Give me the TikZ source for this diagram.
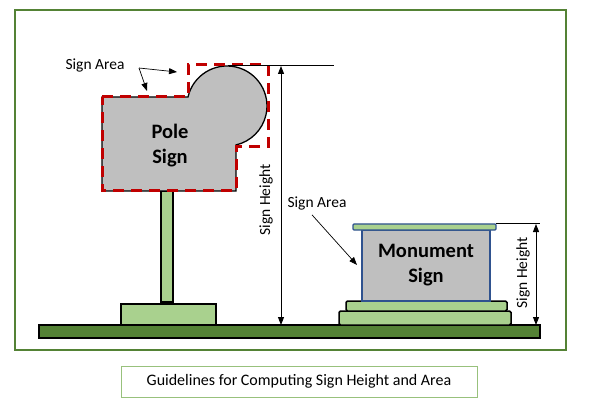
\documentclass[tikz,border=0pt]{standalone}
\usepackage{fontspec}
\setmainfont{Carlito}
\usetikzlibrary{arrows.meta}
\definecolor{framegreen}{HTML}{548235}
\definecolor{lightgreen}{HTML}{A9D18E}
\definecolor{signgray}{HTML}{BFBFBF}
\definecolor{signblue}{HTML}{2F528F}
\definecolor{areared}{HTML}{C00000}
\begin{document}
\begin{tikzpicture}[x=1pt,y=1pt]
		\tikzset{label/.style = {font=\fontsize{15.5}{18}\selectfont, inner sep = 1pt},
			signtext/.style = {font=\fontsize{20.5}{25}\selectfont\bfseries, align=center},
			block/.style = {draw, line width=1.5pt, fill=lightgreen},
			pointer/.style = {-{Triangle[length=8pt,width=6pt]}, line width=0.7pt},
			measure/.style = {{Triangle[length=8pt,width=6pt]}-{Triangle[length=8pt,width=6pt]}, line width=1pt}}
		\useasboundingbox (0,0) rectangle (600,413);

		% frame and ground
		\draw[framegreen, line width=2.6pt] (15,63) rectangle (566,403);
		\draw[line width=1.6pt, fill=framegreen] (39,75) rectangle (540,88);

		% pole sign
		\draw[block] (121,88) rectangle (216,109);
		\draw[block] (161,111) rectangle (173,222);
		\draw[line width=1.3pt, fill=signgray] (102,316) -- (188,316) arc[start angle=167, end angle=-77, radius=40] -- (236,222) -- (102,222) -- cycle;
		\draw[areared, line width=3pt, dash pattern=on 11pt off 7pt] (102,316) -- (188,316) -- (188,348) -- (268,348) -- (268,266) -- (236,266) -- (236,222) -- (102,222) -- cycle;
		\node[signtext] (P_1) at (170,267) {Pole\\Sign};

		% monument sign
		\draw[block, rounded corners=1.5pt] (339,88) rectangle (511,102);
		\draw[block, rounded corners=1.5pt] (346,102) rectangle (507,112);
		\draw[signblue, line width=1.3pt, fill=signgray] (362,112) rectangle (490,183);
		\draw[signblue, line width=1.3pt, fill=lightgreen, rounded corners=1pt] (353,183) rectangle (496,189);
		\node[signtext] (M_1) at (426,148) {Monument\\Sign};

		% sign height
		\coordinate (H_1) at (281,347);
		\coordinate (H_2) at (281,88);
		\coordinate (H_3) at (536,189);
		\coordinate (H_4) at (536,88);
		\draw[line width=1pt] (228,347) -- (334,347);
		\draw[line width=1pt] (496,189) -- (540,189);
		\draw[measure] (H_1) -- (H_2);
		\draw[measure] (H_3) -- (H_4);
		\node[label, rotate=90] (L_1) at (266,213) {Sign Height};
		\node[label, rotate=90] (L_2) at (523,140) {Sign Height};

		% sign area
		\node[label] (S_1) at (95,347) {Sign Area};
		\node[label] (S_2) at (317,209) {Sign Area};
		\coordinate (S_3) at (139,345);
		\coordinate (A_1) at (177,341);
		\coordinate (A_2) at (147,322);
		\coordinate (A_3) at (357,148);
		\draw[pointer] (S_3) -- (A_1);
		\draw[pointer] (S_3) -- (A_2);
		\draw[pointer] (S_2.south) ++(-5,-3) -- (A_3);

		% caption
		\node[draw=lightgreen!80!framegreen, line width=1pt, minimum width=356pt, minimum height=31pt, font=\fontsize{16}{19}\selectfont] (C_1) at (299,31.5) {Guidelines for Computing Sign Height and Area};

	\end{tikzpicture}
\end{document}
